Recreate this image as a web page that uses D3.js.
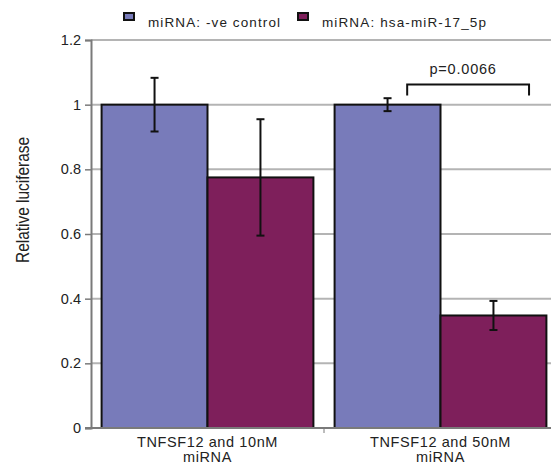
<!DOCTYPE html>
<html>
<head>
<meta charset="utf-8">
<script src="https://cdnjs.cloudflare.com/ajax/libs/d3/7.8.5/d3.min.js"></script>
<style>
  body { margin: 0; background: #fff; }
  text { font-family: "Liberation Sans", Arial, sans-serif; fill: #222; }
</style>
</head>
<body>
<script>
const groups = ["TNFSF12 and 10nM miRNA", "TNFSF12 and 50nM miRNA"];
const series = ["miRNA: -ve control", "miRNA: hsa-miR-17_5p"];
const colors = ["#787bba", "#7e1f5b"];
const control = [1, 1];
const controlErr = [0.083, 0.02];
const mir = [0.775, 0.348];
const mirErr = [0.18, 0.045];
const yTicks = [0, 0.2, 0.4, 0.6, 0.8, 1, 1.2];
const pValue = "p=0.0066";

var data = [];
groups.forEach((g, i) => {
  data.push({ group: g, s: series[0], v: control[i], e: controlErr[i] });
  data.push({ group: g, s: series[1], v: mir[i], e: mirErr[i] });
});

var width = 551, height = 467;
var plotLeft = 91, plotRight = 557, plotTop = 40, plotBottom = 428;

var svg = d3.select("body").append("svg")
    .attr("width", width)
    .attr("height", height);

var y = d3.scaleLinear().domain([0, 1.2]).range([plotBottom, plotTop]);
var x0 = d3.scaleBand().domain(groups).range([plotLeft, plotRight]).paddingInner(0);
var x1 = d3.scaleBand().domain(series).range([0, x0.bandwidth()]).paddingOuter(0.1);
var color = d3.scaleOrdinal().domain(series).range(colors);

// gridlines
svg.append("g")
    .selectAll("line")
    .data(yTicks.filter(d => d > 0))
    .enter()
    .append("line")
    .attr("x1", plotLeft)
    .attr("x2", width)
    .attr("y1", d => y(d))
    .attr("y2", d => y(d))
    .attr("stroke", "#b4b4b4")
    .attr("stroke-width", 2);

// y axis
var yAxis = d3.axisLeft(y).tickValues(yTicks).tickSize(6).tickPadding(4)
    .tickFormat(d => d3.format("")(d));
var yAxisGroup = svg.append("g")
    .attr("transform", `translate(${plotLeft}, 0)`)
    .call(yAxis);
yAxisGroup.select(".domain").attr("stroke", "#7a7a7a").attr("stroke-width", 2);
yAxisGroup.selectAll(".tick line").attr("stroke", "#7a7a7a").attr("stroke-width", 1.5);
yAxisGroup.selectAll(".tick text")
    .style("font-size", "14.5px")
    .style("font-family", "Liberation Sans, Arial, sans-serif")
    .attr("fill", "#222");

// bars
svg.append("g")
    .selectAll("rect")
    .data(data)
    .enter()
    .append("rect")
    .attr("x", d => x0(d.group) + x1(d.s))
    .attr("y", d => y(d.v))
    .attr("width", x1.bandwidth())
    .attr("height", d => y(0) - y(d.v))
    .attr("fill", d => color(d.s))
    .attr("stroke", "#111")
    .attr("stroke-width", 2);

// x axis line + boundary ticks
svg.append("line")
    .attr("x1", plotLeft - 6).attr("x2", width)
    .attr("y1", plotBottom).attr("y2", plotBottom)
    .attr("stroke", "#7a7a7a").attr("stroke-width", 2);
svg.append("g")
    .selectAll("line")
    .data(groups)
    .enter()
    .append("line")
    .attr("x1", d => x0(d) + x0.bandwidth())
    .attr("x2", d => x0(d) + x0.bandwidth())
    .attr("y1", plotBottom)
    .attr("y2", plotBottom + 5)
    .attr("stroke", "#7a7a7a");

var xLabels = svg.append("g")
    .selectAll("text")
    .data(groups)
    .enter()
    .append("text")
    .attr("text-anchor", "middle")
    .style("font-size", "14.5px")
    .style("letter-spacing", "0.6px");
xLabels.append("tspan")
    .attr("x", d => x0(d) + x0.bandwidth() / 2)
    .attr("y", 447)
    .text(d => d.split(" ").slice(0, 3).join(" "));
xLabels.append("tspan")
    .attr("x", d => x0(d) + x0.bandwidth() / 2)
    .attr("y", 462)
    .text(d => d.split(" ").slice(3).join(" "));

// error bars
var err = svg.append("g")
    .selectAll("g")
    .data(data)
    .enter()
    .append("g")
    .attr("stroke", "#111")
    .attr("stroke-width", 2);
err.append("line")
    .attr("x1", d => x0(d.group) + x1(d.s) + x1.bandwidth() / 2)
    .attr("x2", d => x0(d.group) + x1(d.s) + x1.bandwidth() / 2)
    .attr("y1", d => y(d.v + d.e))
    .attr("y2", d => y(d.v - d.e));
err.selectAll(".cap")
    .data(d => [d.v + d.e, d.v - d.e].map(v => ({ cx: x0(d.group) + x1(d.s) + x1.bandwidth() / 2, v: v })))
    .enter()
    .append("line")
    .attr("class", "cap")
    .attr("x1", d => d.cx - 4)
    .attr("x2", d => d.cx + 4)
    .attr("y1", d => y(d.v))
    .attr("y2", d => y(d.v));

// significance bracket on the 50nM group
var g2 = x0(groups[1]), bw = x0.bandwidth();
var bx1 = g2 + bw * 0.357, bx2 = g2 + bw * 0.88;
svg.append("path")
    .attr("d", `M${bx1},${y(1.028)}V${y(1.062)}H${bx2}V${y(1.028)}`)
    .attr("fill", "none")
    .attr("stroke", "#111")
    .attr("stroke-width", 2);
svg.append("text")
    .attr("x", g2 + bw * 0.597)
    .attr("y", y(1.096))
    .attr("text-anchor", "middle")
    .style("font-size", "14.5px")
    .style("letter-spacing", "0.8px")
    .text(pValue);

// y title (source image is squashed, so glyphs are tall and narrow)
svg.append("text")
    .attr("transform", "translate(29, 200) rotate(-90)")
    .attr("text-anchor", "middle")
    .style("font-size", "18px")
    .attr("textLength", 126)
    .attr("lengthAdjust", "spacingAndGlyphs")
    .text("Relative luciferase");

// legend
var legendX = [124, 298];
var legend = svg.append("g")
    .selectAll("g")
    .data(series)
    .enter()
    .append("g")
    .attr("transform", (d, i) => `translate(${legendX[i]}, 13)`);
legend.append("rect")
    .attr("width", 10)
    .attr("height", 7)
    .attr("fill", d => color(d))
    .attr("stroke", "#111")
    .attr("stroke-width", 2);
legend.append("text")
    .attr("x", 24)
    .attr("y", 14)
    .style("font-size", "13.5px")
    .attr("textLength", (d, i) => [132, 164][i])
    .attr("lengthAdjust", "spacing")
    .text(d => d);
</script>
</body>
</html>
